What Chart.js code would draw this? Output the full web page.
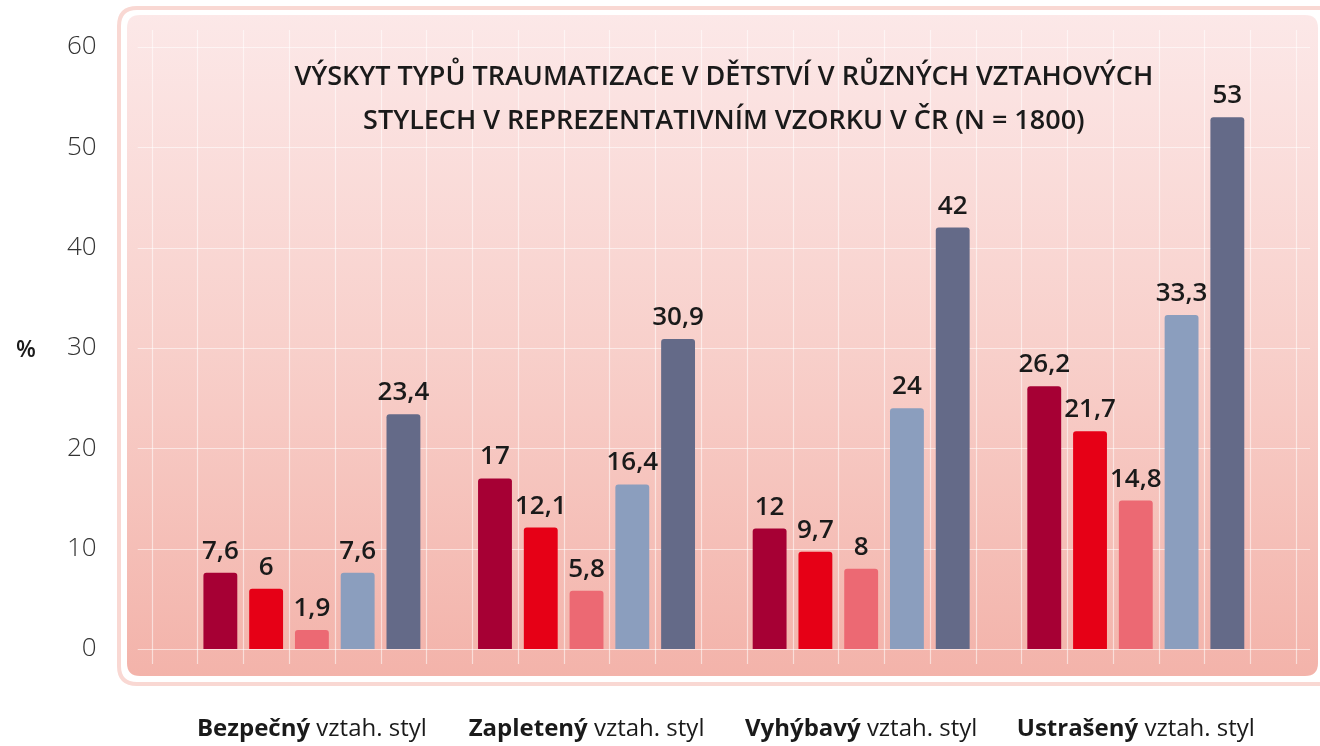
<!DOCTYPE html>
<html>
<head>
<meta charset="utf-8">
<script src="https://cdn.jsdelivr.net/npm/chart.js@4/dist/chart.umd.min.js"></script>
<style>
html,body{margin:0;padding:0;background:#fff;}
#wrap{width:1320px;height:746px;position:relative;}
</style>
</head>
<body>
<div id="wrap"><canvas id="c" width="1320" height="746"></canvas></div>
<script>
// ---- data ----
const categoryBold = ["Bezpečný", "Zapletený", "Vyhýbavý", "Ustrašený"];
const categoryRest = " vztah. styl";
const seriesNames = ["Typ 1", "Typ 2", "Typ 3", "Typ 4", "Typ 5"];
const series1 = [7.6, 17, 12, 26.2];
const series2 = [6, 12.1, 9.7, 21.7];
const series3 = [1.9, 5.8, 8, 14.8];
const series4 = [7.6, 16.4, 24, 33.3];
const series5 = [23.4, 30.9, 42, 53];
const seriesColors = ["#a60034", "#e60016", "#ec6973", "#8b9ebe", "#646a88"];
const yTicks = [0, 10, 20, 30, 40, 50, 60];
const titleLines = ["VÝSKYT TYPŮ TRAUMATIZACE V DĚTSTVÍ V RŮZNÝCH VZTAHOVÝCH", "STYLECH V REPREZENTATIVNÍM VZORKU V ČR (N = 1800)"];
const yAxisTitle = "%";

const allSeries = [series1, series2, series3, series4, series5];
const nGroups = categoryBold.length, nSeries = allSeries.length;
const slotCount = 1 + nGroups * (nSeries + 1);
const slotLabels = Array.from({length: slotCount}, (_, i) => String(i));
const datasets = allSeries.map((vals, s) => {
  const d = new Array(slotCount).fill(null);
  vals.forEach((v, g) => { d[1 + g * (nSeries + 1) + s] = v; });
  return {label: seriesNames[s], data: d, backgroundColor: seriesColors[s],
          borderRadius: {topLeft: 3, topRight: 3}, borderSkipped: 'bottom',
          barPercentage: 0.74, categoryPercentage: 1, grouped: false};
});

const FONT = "'Open Sans', 'Noto Sans', sans-serif";

function rr(ctx, x, y, w, h, r) {
  ctx.beginPath();
  ctx.moveTo(x + r, y);
  ctx.lineTo(x + w - r, y); ctx.quadraticCurveTo(x + w, y, x + w, y + r);
  ctx.lineTo(x + w, y + h - r); ctx.quadraticCurveTo(x + w, y + h, x + w - r, y + h);
  ctx.lineTo(x + r, y + h); ctx.quadraticCurveTo(x, y + h, x, y + h - r);
  ctx.lineTo(x, y + r); ctx.quadraticCurveTo(x, y, x + r, y);
  ctx.closePath();
}

const panelPlugin = {
  id: 'panel',
  beforeDraw(chart) {
    const ctx = chart.ctx;
    ctx.save();
    ctx.strokeStyle = '#f9d8d3';
    ctx.lineWidth = 4;
    rr(ctx, 119, 8, 1220, 676, 18);
    ctx.stroke();
    const g = ctx.createLinearGradient(0, 15, 0, 676);
    g.addColorStop(0, '#fce8e8');
    g.addColorStop(0.5, '#f8d0cb');
    g.addColorStop(1, '#f3b3aa');
    ctx.fillStyle = g;
    rr(ctx, 127, 15, 1191, 661, 13);
    ctx.fill();
    const xs = chart.scales.x, ys = chart.scales.y, ca = chart.chartArea;
    ctx.strokeStyle = 'rgba(255,255,255,0.55)';
    ctx.lineWidth = 1.2;
    const step = xs.getPixelForValue(1) - xs.getPixelForValue(0);
    for (let i = 0; i <= slotCount; i++) {
      const x = Math.round(xs.getPixelForValue(0) - step / 2 + i * step) + 0.5;
      ctx.beginPath(); ctx.moveTo(x, ca.top - 17); ctx.lineTo(x, ca.bottom + 15); ctx.stroke();
    }
    yTicks.forEach(t => {
      const y = Math.round(ys.getPixelForValue(t)) + 0.5;
      ctx.beginPath(); ctx.moveTo(ca.left - 14, y); ctx.lineTo(ca.right + 14, y); ctx.stroke();
    });
    ctx.restore();
  },
  afterDraw(chart) {
    const ctx = chart.ctx, xs = chart.scales.x, ys = chart.scales.y;
    ctx.save();
    ctx.fillStyle = '#1a1a1a';
    ctx.font = `600 26px ${FONT}`;
    ctx.textAlign = 'center';
    ctx.textBaseline = 'alphabetic';
    chart.data.datasets.forEach((ds, di) => {
      const meta = chart.getDatasetMeta(di);
      ds.data.forEach((v, i) => {
        if (v === null) return;
        const el = meta.data[i];
        ctx.fillText(String(v).replace('.', ','), el.x, el.y - 14);
      });
    });
    ctx.font = `600 27px ${FONT}`;
    const cx = (chart.chartArea.left + chart.chartArea.right) / 2;
    ctx.fillText(titleLines[0], cx, 85);
    ctx.fillText(titleLines[1], cx, 129);
    ctx.font = `600 23px ${FONT}`;
    ctx.fillText(yAxisTitle, 26, ys.getPixelForValue(30) + 9);
    categoryBold.forEach((b, g) => {
      const center = xs.getPixelForValue(1 + g * (nSeries + 1) + 2);
      ctx.font = `700 24px ${FONT}`;
      const wb = ctx.measureText(b).width;
      ctx.font = `400 24px ${FONT}`;
      const wr = ctx.measureText(categoryRest).width;
      let x = center - (wb + wr) / 2;
      ctx.textAlign = 'left';
      ctx.font = `700 24px ${FONT}`;
      ctx.fillText(b, x, 736);
      ctx.font = `400 24px ${FONT}`;
      ctx.fillText(categoryRest, x + wb, 736);
    });
    ctx.restore();
  }
};

new Chart(document.getElementById('c'), {
  type: 'bar',
  data: {labels: slotLabels, datasets},
  options: {
    responsive: true, maintainAspectRatio: false, animation: false, devicePixelRatio: 1,
    layout: {padding: {top: 47, right: 24, left: 0, bottom: 0}},
    plugins: {legend: {display: false}, title: {display: false}, tooltip: {enabled: false}},
    scales: {
      x: {type: 'category', offset: true, grid: {display: false}, border: {display: false},
          ticks: {display: false},
          afterFit(s) { s.height = 97; }},
      y: {min: 0, max: 60, grid: {display: false, drawTicks: true, tickLength: 55}, border: {display: false},
          afterBuildTicks(s) { s.ticks = yTicks.map(v => ({value: v})); },
          ticks: {color: '#333', padding: 0, font: {family: FONT, size: 26, weight: 300}},
          afterFit(s) { s.width = 151.7; }}
    }
  },
  plugins: [panelPlugin]
});
</script>
</body>
</html>
